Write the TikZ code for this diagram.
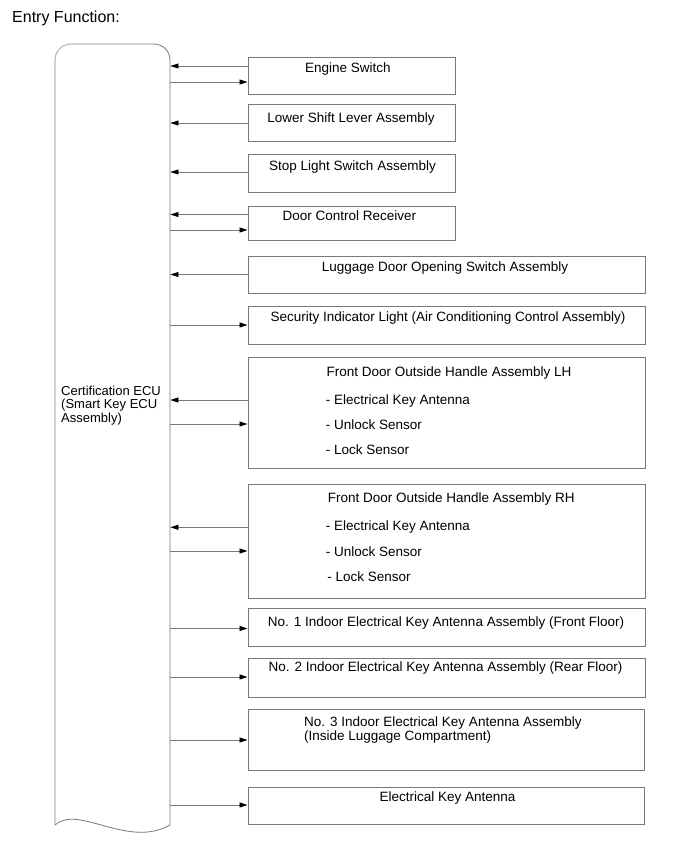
\documentclass[tikz,border=0pt]{standalone}
\usepackage{fontspec}
\setmainfont{Liberation Sans}
\usetikzlibrary{arrows.meta}
\definecolor{linegray}{RGB}{120,120,120}
\definecolor{edgegray}{RGB}{185,185,185}
\tikzset{
  box/.style={draw=linegray, line width=0.8pt, inner sep=0pt, anchor=north west},
  txt/.style={inner sep=0pt, anchor=base, font=\fontsize{13.5pt}{16pt}\selectfont},
  ltxt/.style={inner sep=0pt, anchor=base west, font=\fontsize{13.5pt}{16pt}\selectfont},
  conn/.style={draw=linegray, line width=0.8pt, -{Triangle[length=8pt,width=5pt,fill=black,color=black]}},
  eculine/.style={draw=linegray, line width=0.8pt},
}
\begin{document}
\begin{tikzpicture}[x=1pt,y=-1pt]
\useasboundingbox (0,0) rectangle (691,855);
\fill[white] (0,0) rectangle (691,855);

\node[inner sep=0pt, anchor=base west, font=\fontsize{16pt}{19pt}\selectfont] (title) at (12,22) {Entry Function:};

% ECU
\node[inner sep=0pt, anchor=north west, minimum width=115pt, minimum height=781pt] (ecu) at (55,44) {};
\draw[draw=edgegray, line width=1.1pt, rounded corners=16pt] (55,825) -- (55,44) -- (100,44);
\draw[eculine, rounded corners=16pt] (100,44) -- (170,44) -- (170,825);
\draw[eculine] (55,825) .. controls (78,804) and (128,849) .. (170,825);
\node[inner sep=0pt, anchor=base west, align=left, font=\fontsize{13pt}{13.5pt}\selectfont] (ecut) at (61,422)
  {Certification ECU\\(Smart Key ECU\\Assembly)};

% boxes
\node[box, minimum width=207pt, minimum height=36.5pt] (es) at (247.5,57) {};
\node[txt] (es-t) at (348,72) {Engine Switch};

\node[box, minimum width=207pt, minimum height=37pt] (ls) at (247.5,104) {};
\node[txt] (ls-t) at (351,122) {Lower Shift Lever Assembly};

\node[box, minimum width=207pt, minimum height=37.5pt] (sl) at (247.5,154) {};
\node[txt] (sl-t) at (352.5,170) {Stop Light Switch Assembly};

\node[box, minimum width=207pt, minimum height=34.5pt] (dc) at (247.5,205.5) {};
\node[txt] (dc-t) at (349.5,220) {Door Control Receiver};

\node[box, minimum width=397.5pt, minimum height=37.5pt] (lg) at (247.5,255.7) {};
\node[txt] (lg-t) at (445,271.5) {Luggage Door Opening Switch Assembly};

\node[box, minimum width=397.5pt, minimum height=37.7pt] (si) at (247.5,306) {};
\node[txt] (si-t) at (448,321.5) {Security Indicator Light (Air Conditioning Control Assembly)};

\node[box, minimum width=397.5pt, minimum height=111.3pt] (lh) at (247.5,357) {};
\node[ltxt] (lh-t) at (326.5,376) {Front Door Outside Handle Assembly LH};
\node[ltxt] (lh-a) at (325.7,404) {- Electrical Key Antenna};
\node[ltxt] (lh-u) at (325.7,429) {- Unlock Sensor};
\node[ltxt] (lh-l) at (325.7,454) {- Lock Sensor};

\node[box, minimum width=397.5pt, minimum height=114pt] (rh) at (247.5,484.3) {};
\node[ltxt] (rh-t) at (327.7,502.3) {Front Door Outside Handle Assembly RH};
\node[ltxt] (rh-a) at (325.7,530) {- Electrical Key Antenna};
\node[ltxt] (rh-u) at (325.7,556.5) {- Unlock Sensor};
\node[ltxt] (rh-l) at (327.2,581) {- Lock Sensor};

\node[box, minimum width=397.5pt, minimum height=37.7pt] (n1) at (247.5,608.3) {};
\node[txt] (n1-t) at (446,626.5) {No. 1 Indoor Electrical Key Antenna Assembly (Front Floor)};

\node[box, minimum width=397.5pt, minimum height=38.4pt] (n2) at (247.5,658.3) {};
\node[txt] (n2-t) at (445.5,671.5) {No. 2 Indoor Electrical Key Antenna Assembly (Rear Floor)};

\node[box, minimum width=396.5pt, minimum height=61pt] (n3) at (247.5,709) {};
\node[ltxt] (n3-t) at (304,726) {No. 3 Indoor Electrical Key Antenna Assembly};
\node[ltxt] (n3-u) at (304,740) {(Inside Luggage Compartment)};

\node[box, minimum width=396.5pt, minimum height=37pt] (ek) at (247.5,787) {};
\node[txt] (ek-t) at (447.5,801.5) {Electrical Key Antenna};

% connectors
\draw[conn] (es.west |- 0,66) -- (ecu.east |- 0,66);
\draw[conn] (ecu.east |- 0,82) -- (es.west |- 0,82);
\draw[conn] (ls.west |- 0,123) -- (ecu.east |- 0,123);
\draw[conn] (sl.west |- 0,172) -- (ecu.east |- 0,172);
\draw[conn] (dc.west |- 0,214.5) -- (ecu.east |- 0,214.5);
\draw[conn] (ecu.east |- 0,230) -- (dc.west |- 0,230);
\draw[conn] (lg.west |- 0,274.5) -- (ecu.east |- 0,274.5);
\draw[conn] (ecu.east |- 0,325) -- (si.west |- 0,325);
\draw[conn] (lh.west |- 0,400) -- (ecu.east |- 0,400);
\draw[conn] (ecu.east |- 0,424) -- (lh.west |- 0,424);
\draw[conn] (rh.west |- 0,527.3) -- (ecu.east |- 0,527.3);
\draw[conn] (ecu.east |- 0,551) -- (rh.west |- 0,551);
\draw[conn] (ecu.east |- 0,628.5) -- (n1.west |- 0,628.5);
\draw[conn] (ecu.east |- 0,677) -- (n2.west |- 0,677);
\draw[conn] (ecu.east |- 0,740) -- (n3.west |- 0,740);
\draw[conn] (ecu.east |- 0,805) -- (ek.west |- 0,805);
\end{tikzpicture}
\end{document}
